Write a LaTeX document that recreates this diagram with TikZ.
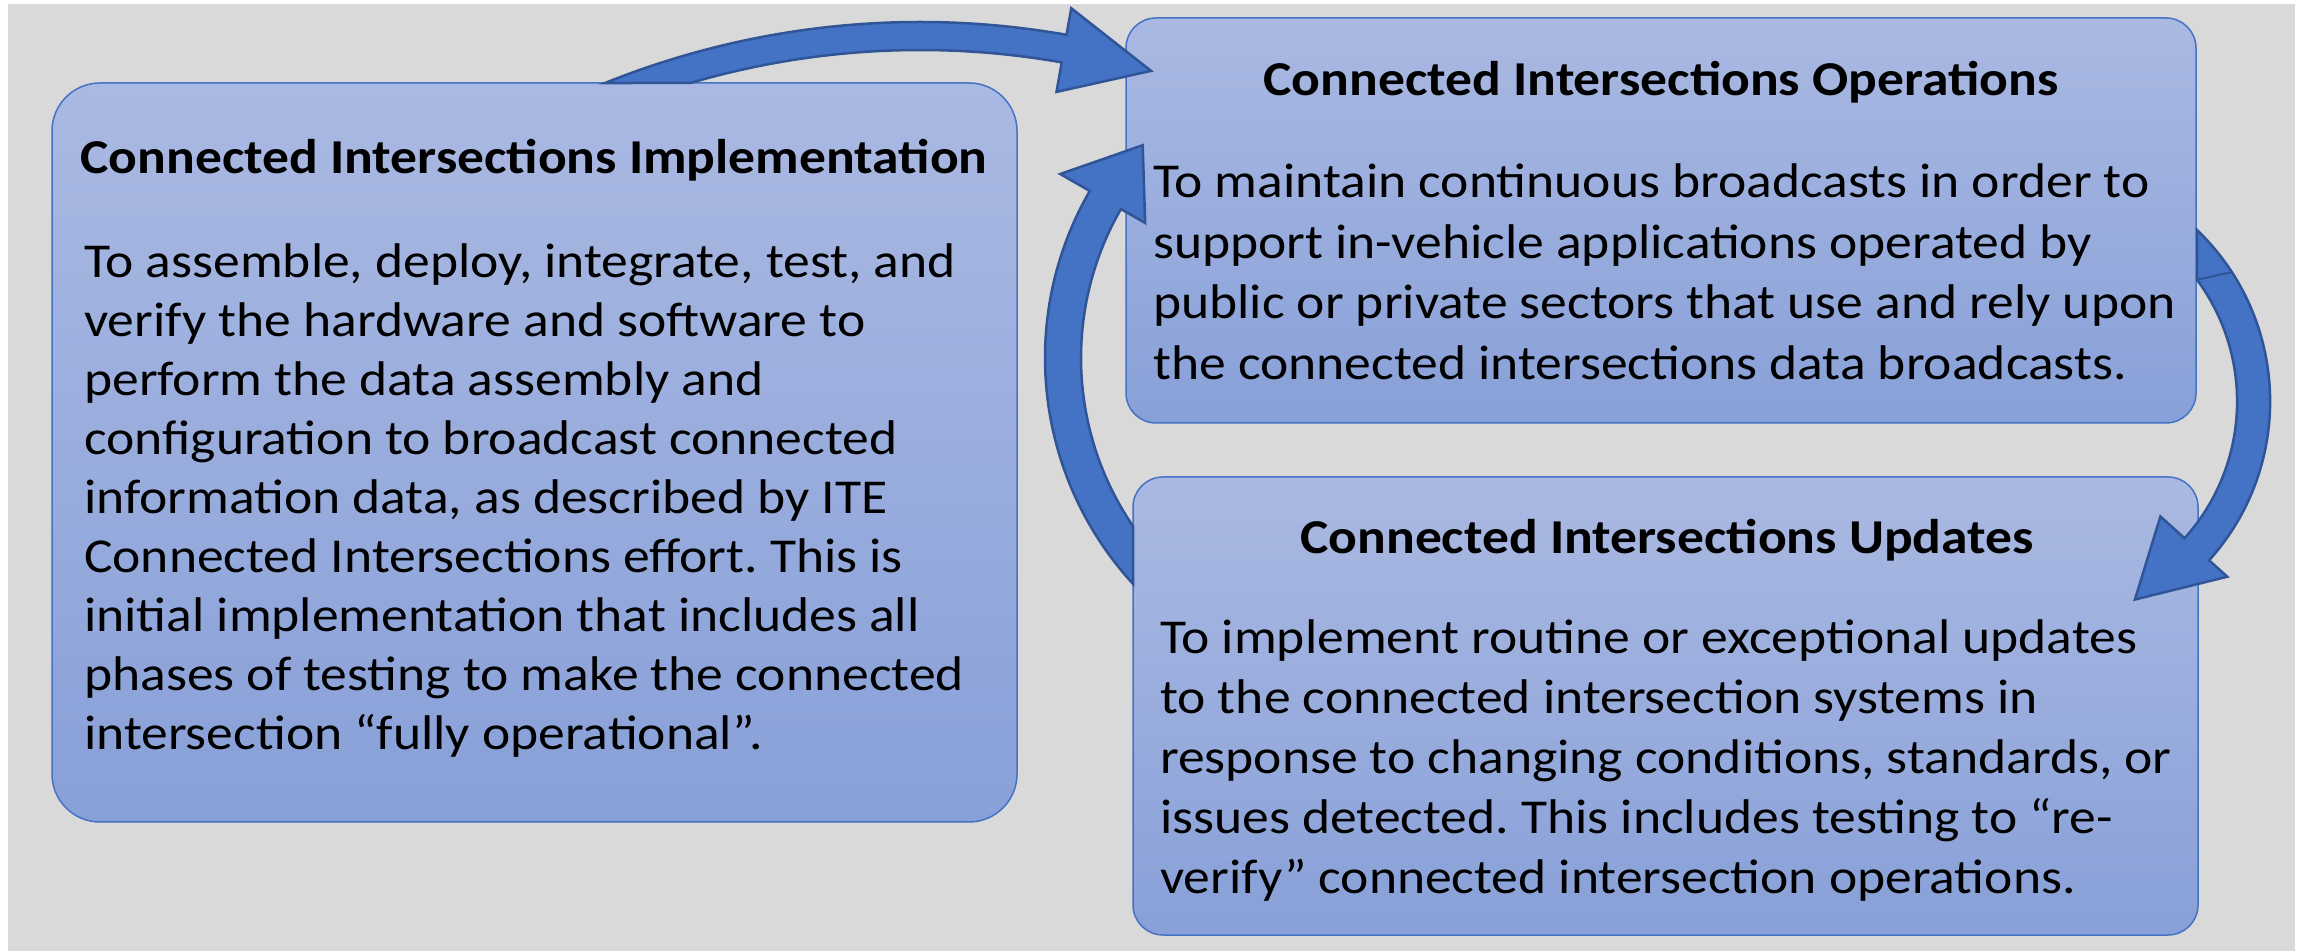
\documentclass[tikz,border=0pt]{standalone}
\usepackage{fontspec}
\setmainfont{Carlito}[FakeStretch=1.1]
\usetikzlibrary{calc}
\definecolor{bggray}{HTML}{D9D9D9}
\definecolor{boxtop}{HTML}{AAB9E2}
\definecolor{boxbot}{HTML}{88A0D8}
\definecolor{boxline}{HTML}{4472C4}
\definecolor{arrfill}{HTML}{4472C4}
\definecolor{arrline}{HTML}{2F5597}
\frenchspacing
\begin{document}
\begin{tikzpicture}[x=1pt,y=1pt,
  panel/.style={draw=boxline, line width=1.5pt, top color=boxtop, bottom color=boxbot, inner sep=0pt},
  heading/.style={anchor=base, inner sep=0pt, font=\fontsize{48.7}{59.7}\selectfont\bfseries},
  bodytext/.style={anchor=base west, inner sep=0pt, font=\fontsize{48.7}{#1}\selectfont},
  bigarrow/.style={fill=arrfill, draw=arrline, line width=2.5pt, line join=miter}]
\useasboundingbox (0,0) rectangle (2303,951);
\fill[bggray] (8,0) rectangle (2295,947);
% panels
\node[panel, rounded corners=48pt, minimum width=965pt, minimum height=739pt] (impl) at (534.5,498.5) {};
\node[panel, rounded corners=30pt, minimum width=1070pt, minimum height=405pt] (ops) at (1661,730.5) {};
\node[panel, rounded corners=30pt, minimum width=1065pt, minimum height=458pt] (upd) at (1665.5,245) {};
% texts
\node[heading] (implT) at (534,777) {Connected Intersections Implementation};
\node[bodytext=59] (implB) at (84,673) {\begin{tabular}[t]{@{}l@{}}
To assemble, deploy, integrate, test, and\\
verify the hardware and software to\\
perform the data assembly and\\
configuration to broadcast connected\\
information data, as described by ITE\\
Connected Intersections effort. This is\\
initial implementation that includes all\\
phases of testing to make the connected\\
intersection “fully operational”.
\end{tabular}};
\node[heading] (opsT) at (1661,855) {Connected Intersections Operations};
\node[bodytext=60.4] (opsB) at (1153,753) {\begin{tabular}[t]{@{}l@{}}
To maintain continuous broadcasts in order to\\
support in-vehicle applications operated by\\
public or private sectors that use and rely upon\\
the connected intersections data broadcasts.
\end{tabular}};
\node[heading] (updT) at (1667,397) {Connected Intersections Updates};
\node[bodytext=59.8] (updB) at (1160,297) {\begin{tabular}[t]{@{}l@{}}
To implement routine or exceptional updates\\
to the connected intersection systems in\\
response to changing conditions, standards, or\\
issues detected. This includes testing to “re-\\
verify” connected intersection operations.
\end{tabular}};
% arrow centres
\coordinate (c1) at (920,85);
\coordinate (c2) at (1379,593);
\coordinate (c3) at (2032.6,549.6);
% implementation -> operations
\filldraw[bigarrow] ($(c1)+(111.93:844pt)$) arc[start angle=111.93, end angle=80, radius=844pt]
  -- ($(c1)+(80:871pt)$) -- ($(c1)+(73.8:828pt)$) -- ($(c1)+(80:786pt)$)
  -- ($(c1)+(80:816pt)$) arc[start angle=80, end angle=106.3, radius=816pt] -- cycle;
% updates -> operations
\filldraw[bigarrow] ($(c2)+(222.56:334pt)$) arc[start angle=222.56, end angle=150, radius=334pt]
  -- ($(c2)+(150:368pt)$) -- ($(c2)+(138:318pt)$) -- ($(c2)+(150:270pt)$)
  -- ($(c2)+(150:298pt)$) arc[start angle=150, end angle=214.36, radius=298pt] -- cycle;
% operations -> updates
\filldraw[bigarrow] ($(c3)+(46.2:237.5pt)$) arc[start angle=46.2, end angle=-42, radius=237.5pt]
  -- ($(c3)+(-42:262pt)$) -- ($(c3)+(-62.7:223pt)$) -- ($(c3)+(-42:172pt)$)
  -- ($(c3)+(-42:204.5pt)$) arc[start angle=-42, end angle=36.5, radius=204.5pt] -- cycle;
\draw[arrline, line width=2pt] ($(c3)+(36.5:204.5pt)$) -- ($(c3)+(33:237.5pt)$);
\end{tikzpicture}
\end{document}
